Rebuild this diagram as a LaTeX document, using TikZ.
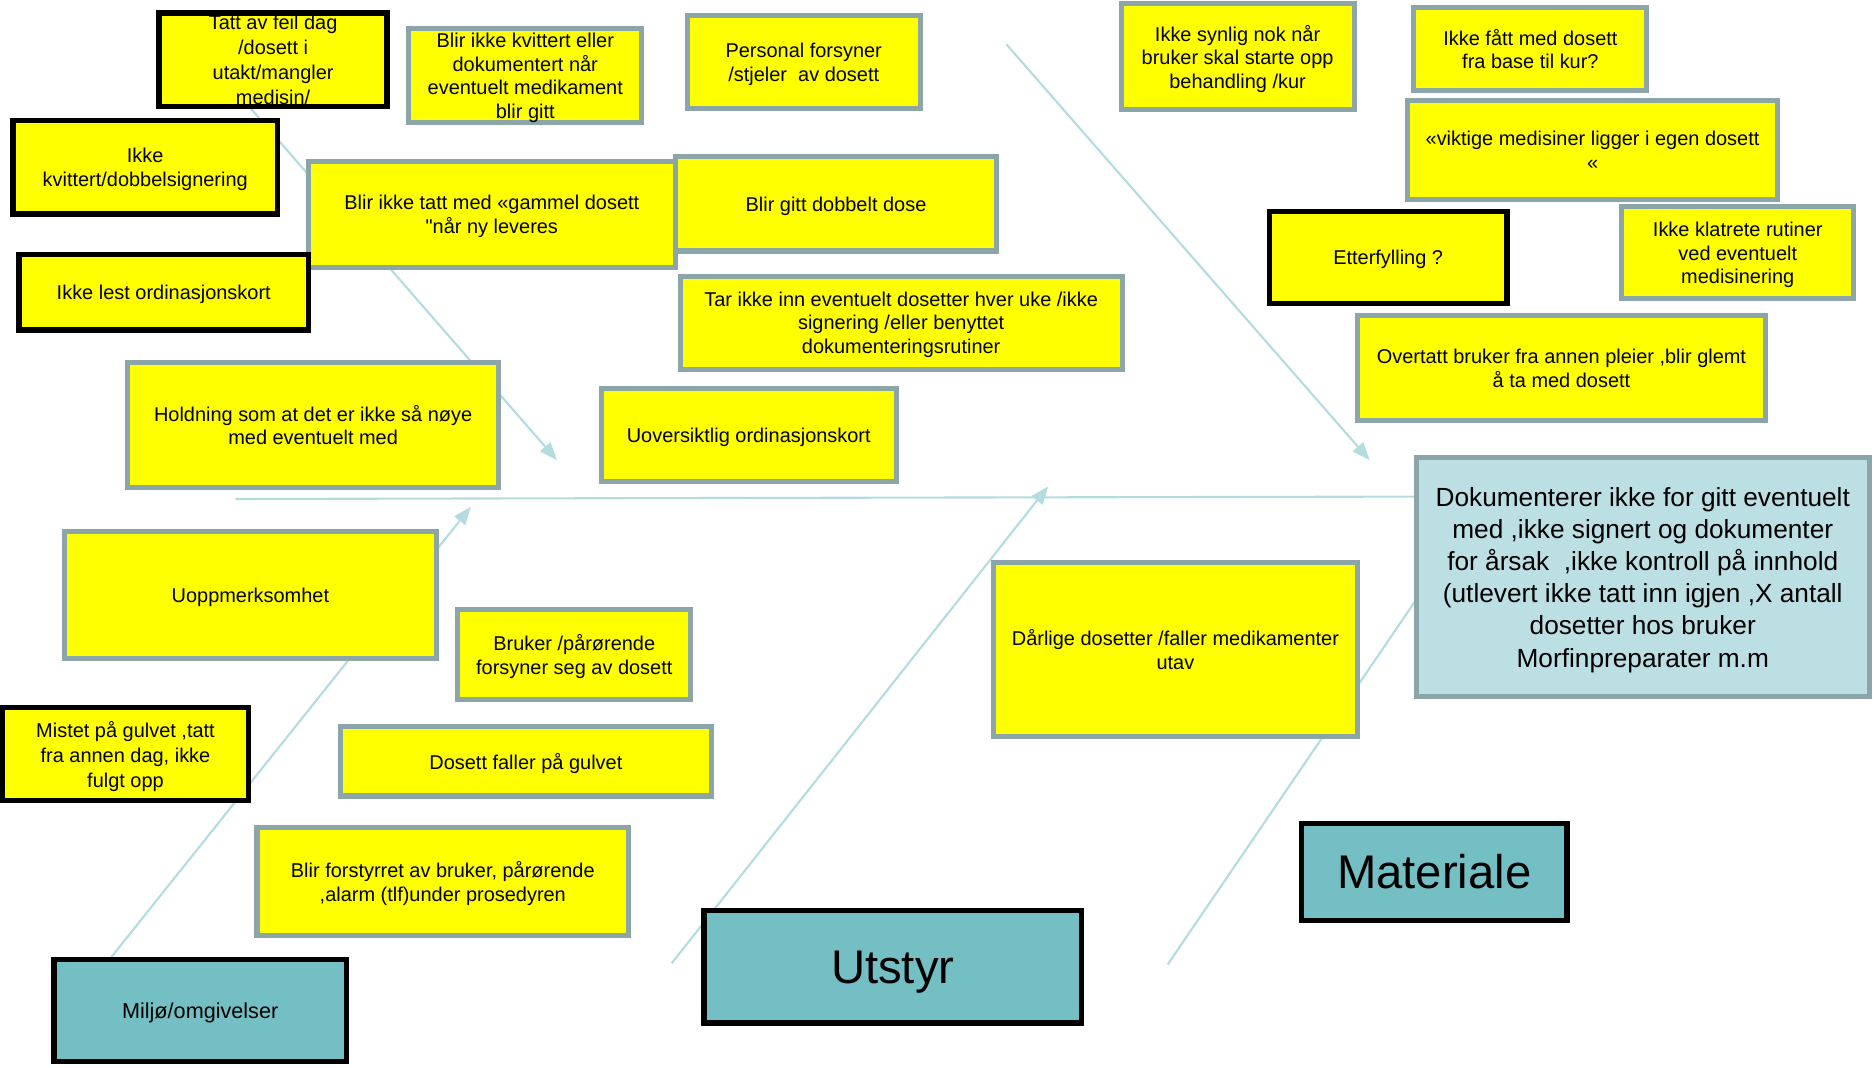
\documentclass[tikz,border=0pt]{standalone}
\usepackage{fontspec}
\setmainfont{Liberation Sans}
\usetikzlibrary{arrows.meta}
\definecolor{causeyellow}{HTML}{FFFF00}
\definecolor{framegray}{HTML}{8CA5A8}
\definecolor{catteal}{HTML}{74BFC4}
\definecolor{effectblue}{HTML}{BBDFE3}
\definecolor{bonecol}{HTML}{B3DCE0}
\begin{document}
\begin{tikzpicture}[x=0.02cm, y=-0.02cm,
  >={Triangle[length=8.5pt,width=6.5pt]},
  cause/.style={draw=framegray, line width=2.4pt, fill=causeyellow, align=center,
    font=\fontsize{9.5}{11.3}\selectfont, inner sep=2pt, text depth=0pt},
  keycause/.style={cause, draw=black, line width=2.6pt},
  category/.style={draw=black, line width=2.6pt, fill=catteal, align=center,
    font=\fontsize{22.5}{26}\selectfont, text depth=0pt},
  effect/.style={draw=framegray, line width=2.4pt, fill=effectblue, align=center,
    font=\fontsize{12.5}{15.3}\selectfont, text depth=0pt},
  bone/.style={draw=bonecol, line width=1pt}]
\useasboundingbox (0,0) rectangle (1568,893);

% bones
\coordinate (spl) at (197,417.5);
\coordinate (spr) at (1183,415.5);
\coordinate (b1s) at (210,91);
\coordinate (b1e) at (466,385);
\coordinate (b2s) at (842,37);
\coordinate (b2e) at (1146,385);
\coordinate (b3s) at (93,801);
\coordinate (b3e) at (394,424);
\coordinate (b4s) at (562,806);
\coordinate (b4e) at (877,407);
\coordinate (b5s) at (977,807);
\coordinate (b5e) at (1242,418);
\draw[bone] (spl) -- (spr);
\draw[bone, ->] (b1s) -- (b1e);
\draw[bone, ->] (b2s) -- (b2e);
\draw[bone, ->] (b3s) -- (b3e);
\draw[bone, ->] (b4s) -- (b4e);
\draw[bone] (b5s) -- (b5e);

% upper causes
\node[keycause, minimum width=3.82cm, minimum height=1.56cm, inner ysep=0pt, font=\fontsize{9.5}{11.9}\selectfont] (tatt) at (228.5,50) {Tatt av feil dag\\/dosett i\\utakt/mangler\\medisin/};
\node[cause, minimum width=3.9cm, minimum height=1.54cm] (kvitt) at (439.5,63.5) {Blir ikke kvittert eller\\dokumentert når\\eventuelt medikament\\blir gitt};
\node[cause, minimum width=3.9cm, minimum height=1.56cm] (personal) at (672.5,52) {Personal forsyner\\/stjeler\ \ av dosett};
\node[cause, minimum width=3.9cm, minimum height=1.78cm] (synlig) at (1035.5,47.5) {Ikke synlig nok når\\bruker skal starte opp\\behandling /kur};
\node[cause, minimum width=3.9cm, minimum height=1.4cm] (fatt) at (1280.5,41) {Ikke fått med dosett\\fra base til kur?};
\node[cause, minimum width=6.18cm, minimum height=1.66cm] (viktige) at (1332.5,125.5) {«viktige medisiner ligger i egen dosett\\«};
\node[keycause, minimum width=4.42cm, minimum height=1.56cm] (dobbsign) at (121.5,140) {Ikke\\kvittert/dobbelsignering};
\node[cause, minimum width=6.14cm, minimum height=1.78cm] (gammel) at (411.5,179.5) {Blir ikke tatt med «gammel dosett\\\textquotedbl når ny leveres};
\node[cause, minimum width=5.38cm, minimum height=1.58cm] (dobbelt) at (699.5,170.5) {Blir gitt dobbelt dose};
\node[keycause, minimum width=3.98cm, minimum height=1.54cm] (etter) at (1161.5,215.5) {Etterfylling ?};
\node[cause, minimum width=3.88cm, minimum height=1.54cm] (klatrete) at (1454,211.5) {Ikke klatrete rutiner\\ved eventuelt\\medisinering};
\node[keycause, minimum width=4.84cm, minimum height=1.26cm] (lest) at (137,244.5) {Ikke lest ordinasjonskort};
\node[cause, minimum width=7.4cm, minimum height=1.56cm] (tarikke) at (754,270) {Tar ikke inn eventuelt dosetter hver uke /ikke\\signering /eller benyttet\\dokumenteringsrutiner};
\node[cause, minimum width=6.82cm, minimum height=1.76cm] (overtatt) at (1306.5,308) {Overtatt bruker fra annen pleier ,blir glemt\\å ta med dosett};
\node[cause, minimum width=6.2cm, minimum height=2.1cm] (holdning) at (262,355.5) {Holdning som at det er ikke så nøye\\med eventuelt med};
\node[cause, minimum width=4.94cm, minimum height=1.56cm] (uoversikt) at (626.5,364) {Uoversiktlig ordinasjonskort};

% effect
\node[effect, minimum width=7.58cm, minimum height=4cm] (head) at (1374.5,483) {Dokumenterer ikke for gitt eventuelt\\med ,ikke signert og dokumenter\\for årsak\ \ ,ikke kontroll på innhold\\(utlevert ikke tatt inn igjen ,X antall\\dosetter hos bruker\\Morfinpreparater m.m};

% lower causes
\node[cause, minimum width=6.22cm, minimum height=2.12cm] (uopp) at (209.5,498) {Uoppmerksomhet};
\node[cause, minimum width=3.9cm, minimum height=1.5cm] (bruker) at (480.5,547.5) {Bruker /pårørende\\forsyner seg av dosett};
\node[cause, minimum width=6.1cm, minimum height=2.9cm] (darlige) at (983.5,543.5) {Dårlige dosetter /faller medikamenter\\utav};
\node[keycause, minimum width=4.12cm, minimum height=1.56cm, font=\fontsize{9.5}{11.9}\selectfont] (mistet) at (105,631) {Mistet på gulvet ,tatt\\fra annen dag, ikke\\fulgt opp};
\node[cause, minimum width=6.2cm, minimum height=1.16cm] (faller) at (440,637) {Dosett faller på gulvet};
\node[cause, minimum width=6.22cm, minimum height=1.82cm] (forstyrret) at (370.5,737.5) {Blir forstyrret av bruker, pårørende\\,alarm (tlf)under prosedyren};

% categories
\node[category, minimum width=4.44cm, minimum height=1.62cm] (materiale) at (1200,729.5) {Materiale};
\node[category, minimum width=6.32cm, minimum height=1.88cm] (utstyr) at (747,809) {Utstyr};
\node[category, minimum width=4.9cm, minimum height=1.7cm, font=\fontsize{10.3}{12}\selectfont] (miljo) at (167.5,845.5) {Miljø/omgivelser};
\end{tikzpicture}
\end{document}
